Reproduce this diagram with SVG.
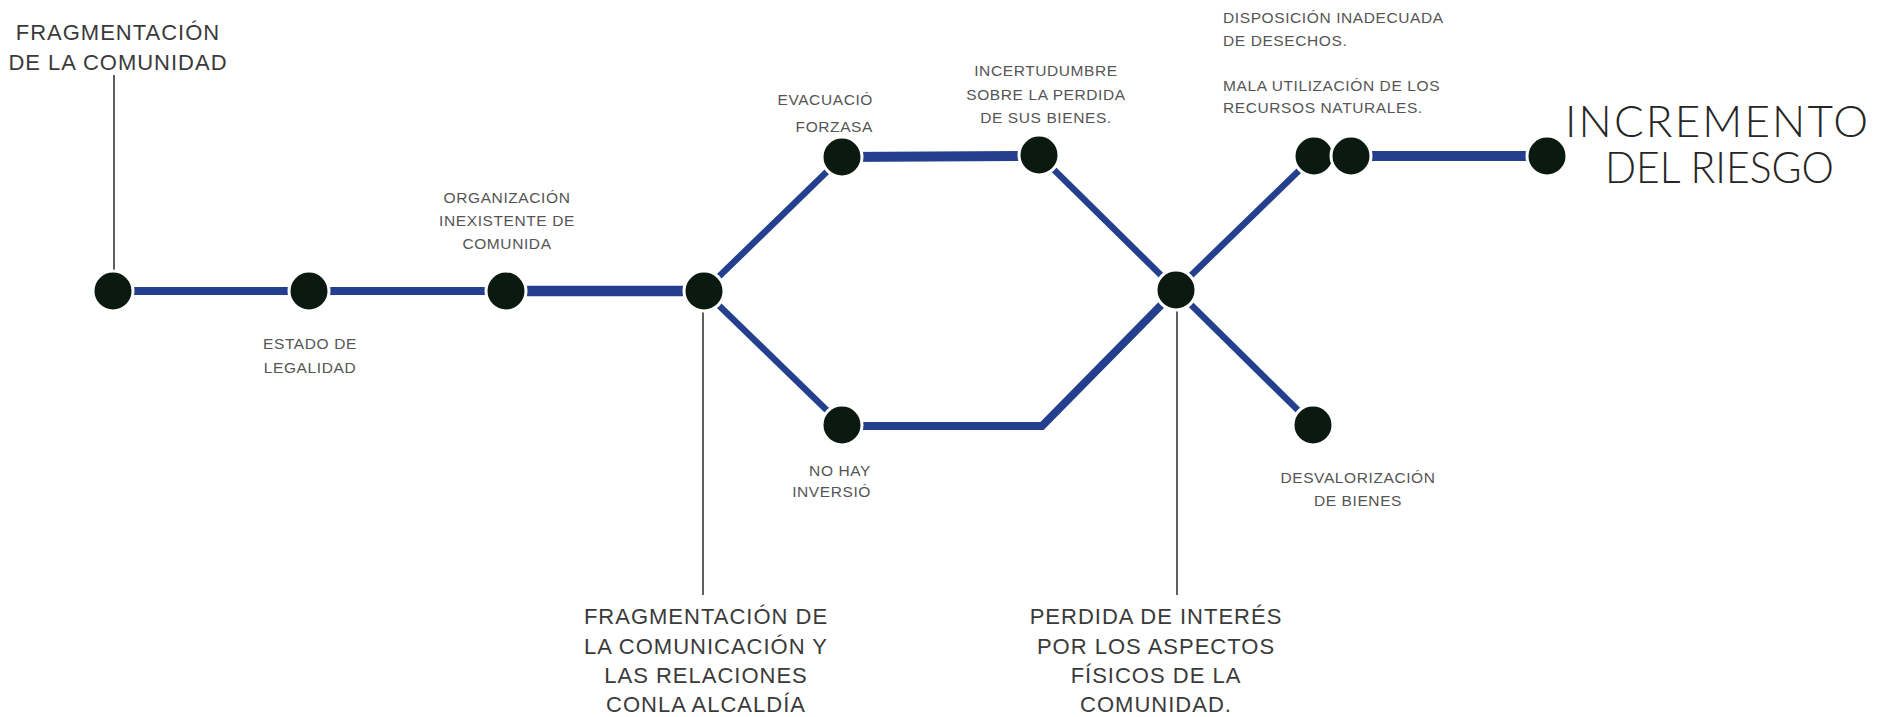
<svg xmlns="http://www.w3.org/2000/svg" width="1889" height="717" viewBox="0 0 1889 717">
<style>
.bg{fill:#ffffff}
.c{fill:none;stroke:#243f8e;stroke-linecap:butt;stroke-linejoin:miter}
.thin{stroke:#2a2a2a;stroke-width:1.5;fill:none}
.dot{fill:#0b1a10;stroke:#ffffff;stroke-width:3}
.s{font-family:"Liberation Sans",Arial,sans-serif;font-size:15.5px;letter-spacing:0.6px;fill:#555555}
.m{font-family:"Liberation Sans",Arial,sans-serif;font-size:22px;letter-spacing:1px;fill:#3a3a3a}
.b{font-family:Lato,"Liberation Sans",Arial,sans-serif;font-weight:300;font-size:44px;fill:#262626}
.mid{text-anchor:middle}
.end{text-anchor:end}
</style>
<rect class="bg" x="0" y="0" width="1889" height="717"/>
<g id="leaders">
<line class="thin" x1="114" y1="75" x2="114" y2="280"/>
<line class="thin" x1="703" y1="300" x2="703" y2="595"/>
<line class="thin" x1="1177" y1="300" x2="1177" y2="595"/>
</g>
<g id="connectors">
<line class="c" x1="113" y1="291" x2="309" y2="291" stroke-width="8"/>
<line class="c" x1="309" y1="291" x2="506" y2="291" stroke-width="8"/>
<line class="c" x1="506" y1="291" x2="704" y2="291" stroke-width="10.5"/>
<line class="c" x1="704" y1="291" x2="842" y2="157" stroke-width="6.5"/>
<line class="c" x1="842" y1="157" x2="1039" y2="156" stroke-width="10"/>
<line class="c" x1="1039" y1="155" x2="1176" y2="290" stroke-width="6.5"/>
<line class="c" x1="704" y1="291" x2="842" y2="425" stroke-width="6.5"/>
<polyline class="c" points="842,426 1042,426 1176,290" stroke-width="8"/>
<line class="c" x1="1176" y1="290" x2="1314" y2="156" stroke-width="6.5"/>
<line class="c" x1="1351" y1="156" x2="1547" y2="156" stroke-width="10"/>
<line class="c" x1="1176" y1="290" x2="1313" y2="425" stroke-width="6.5"/>
</g>
<g id="n1">
<circle class="dot" cx="113" cy="291" r="20"/>
<text class="m mid" x="118" y="40">FRAGMENTACIÓN</text>
<text class="m mid" x="118" y="70">DE LA COMUNIDAD</text>
</g>
<g id="n2">
<circle class="dot" cx="309" cy="291" r="20"/>
<text class="s mid" x="310" y="349">ESTADO DE</text>
<text class="s mid" x="310" y="373">LEGALIDAD</text>
</g>
<g id="n3">
<circle class="dot" cx="506" cy="291" r="20"/>
<text class="s mid" x="507" y="203">ORGANIZACIÓN</text>
<text class="s mid" x="507" y="226">INEXISTENTE DE</text>
<text class="s mid" x="507" y="249">COMUNIDA</text>
</g>
<g id="n4">
<circle class="dot" cx="704" cy="291" r="20"/>
<text class="m mid" x="706" y="624">FRAGMENTACIÓN DE</text>
<text class="m mid" x="706" y="654">LA COMUNICACIÓN Y</text>
<text class="m mid" x="706" y="683">LAS RELACIONES</text>
<text class="m mid" x="706" y="712">CONLA ALCALDÍA</text>
</g>
<g id="n5">
<circle class="dot" cx="842" cy="157" r="20"/>
<text class="s end" x="873" y="105">EVACUACIÓ</text>
<text class="s end" x="873" y="132">FORZASA</text>
</g>
<g id="n6">
<circle class="dot" cx="1039" cy="155" r="20"/>
<text class="s mid" x="1046" y="76">INCERTUDUMBRE</text>
<text class="s mid" x="1046" y="100">SOBRE LA PERDIDA</text>
<text class="s mid" x="1046" y="123">DE SUS BIENES.</text>
</g>
<g id="n7">
<circle class="dot" cx="842" cy="425" r="20"/>
<text class="s end" x="871" y="476">NO HAY</text>
<text class="s end" x="871" y="497">INVERSIÓ</text>
</g>
<g id="n8">
<circle class="dot" cx="1176" cy="290" r="20"/>
<text class="m mid" x="1156" y="624">PERDIDA DE INTERÉS</text>
<text class="m mid" x="1156" y="654">POR LOS ASPECTOS</text>
<text class="m mid" x="1156" y="683">FÍSICOS DE LA</text>
<text class="m mid" x="1156" y="712">COMUNIDAD.</text>
</g>
<g id="n9">
<circle class="dot" cx="1314" cy="156" r="20"/>
<text class="s" x="1223" y="23">DISPOSICIÓN INADECUADA</text>
<text class="s" x="1223" y="46">DE DESECHOS.</text>
</g>
<g id="n10">
<circle class="dot" cx="1351" cy="156" r="20"/>
<text class="s" x="1223" y="91">MALA UTILIZACIÓN DE LOS</text>
<text class="s" x="1223" y="113">RECURSOS NATURALES.</text>
</g>
<g id="n11">
<circle class="dot" cx="1547" cy="156" r="20"/>
<text class="b" x="1565" y="137" textLength="303" lengthAdjust="spacing">INCREMENTO</text>
<text class="b" x="1605" y="183" textLength="229" lengthAdjust="spacingAndGlyphs">DEL RIESGO</text>
</g>
<g id="n12">
<circle class="dot" cx="1313" cy="425" r="20"/>
<text class="s mid" x="1358" y="483">DESVALORIZACIÓN</text>
<text class="s mid" x="1358" y="506">DE BIENES</text>
</g>
</svg>
